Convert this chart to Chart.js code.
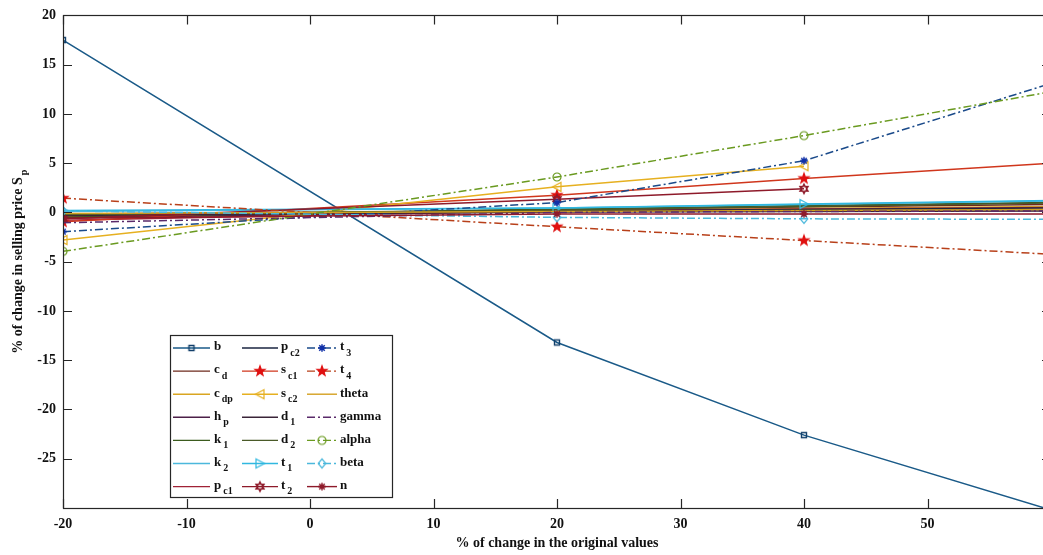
<!DOCTYPE html>
<html><head><meta charset="utf-8">
<script src="https://cdn.jsdelivr.net/npm/chart.js@4.4.1/dist/chart.umd.min.js"></script>
<style>
html,body{margin:0;padding:0;overflow:hidden;background:#fff;width:1043px;height:555px;}
#wrap{position:absolute;left:0;top:0;width:1060px;height:555px;}
</style></head><body>
<div id="wrap"><canvas id="c"></canvas></div>
<script>
// ---- data ----
const xValues = [-20, 20, 40, 60];
const b     = [17.5, -13.2, -22.6, -30.2];
const c_d   = [-0.45, 0.3, 0.55, 0.8];
const c_dp  = [-0.35, 0.2, 0.4, 0.6];
const h_p   = [-0.55, 0.1, 0.2, 0.3];
const k_1   = [-0.5, 0.35, 0.7, 1.0];
const k_2   = [0.1, 0.45, 0.8, 1.15];
const p_c1  = [-0.8, 0.2, 0.35, 0.5];
const p_c2  = [-0.15, 0.15, 0.3, 0.45];
const s_c1  = [-0.95, 1.75, 3.45, 5.0];
const s_c2  = [-2.8, 2.6, 4.7, null];
const d_1   = [-0.3, 0.05, 0.1, 0.15];
const d_2   = [-0.2, 0.25, 0.6, 0.95];
const t_1   = [0.2, 0.45, 0.85, 1.2];
const t_2   = [-0.65, 1.35, 2.4, null];
const t_3   = [-1.95, 1.0, 5.25, 13.1];
const t_4   = [1.45, -1.45, -2.85, -4.25];
const theta = [-0.1, 0.1, 0.2, 0.3];
const gamma = [-1.05, 0.0, 0.1, 0.15];
const alpha = [-3.95, 3.6, 7.8, 12.25];
const beta  = [0.15, -0.5, -0.65, -0.7];
const n     = [-0.6, -0.15, -0.15, -0.15];

const seriesLabels = ['b','c_d','c_dp','h_p','k_1','k_2','p_c1','p_c2','s_c1','s_c2','d_1','d_2','t_1','t_2','t_3','t_4','theta','gamma','alpha','beta','n'];
const seriesValues = [b,c_d,c_dp,h_p,k_1,k_2,p_c1,p_c2,s_c1,s_c2,d_1,d_2,t_1,t_2,t_3,t_4,theta,gamma,alpha,beta,n];
const xTicks = [-20,-10,0,10,20,30,40,50,60];
const xTickLabels = ['-20','-10','0','10','20','30','40','50',''];
const yTicks = [-25,-20,-15,-10,-5,0,5,10,15,20];
const xTitle = '% of change in the original values';
const yTitleMain = '% of change in selling price S';
const yTitleSub = 'p';

// ---- styles ----
const DD = [8,3,2,3];
const styles = {
  'b':    {c:'#1a5a88', m:'square', mc:'#123f6a'},
  'c_d':  {c:'#6e2a1c'},
  'c_dp': {c:'#d9a521'},
  'h_p':  {c:'#4c1f48'},
  'k_1':  {c:'#3b5b1e'},
  'k_2':  {c:'#4bb8dc'},
  'p_c1': {c:'#a02236'},
  'p_c2': {c:'#1a2540'},
  's_c1': {c:'#d0361c', m:'pentagram', mc:'#e01010', fill:true},
  's_c2': {c:'#e6b020', m:'triLeft'},
  'd_1':  {c:'#3a2438'},
  'd_2':  {c:'#4a5a28'},
  't_1':  {c:'#30b8e0', m:'triRight'},
  't_2':  {c:'#8e1a2a', m:'hexagram'},
  't_3':  {c:'#1a4a8a', d:DD, m:'asterisk', mc:'#1030a8'},
  't_4':  {c:'#b8401a', d:DD, m:'pentagram', mc:'#e01010', fill:true},
  'theta':{c:'#d4a020'},
  'gamma':{c:'#5a2a6a', d:DD},
  'alpha':{c:'#6a9a20', d:DD, m:'circle'},
  'beta': {c:'#4bb8dc', d:DD, m:'diamond'},
  'n':    {c:'#8e1a2a', m:'asterisk'}
};

function makeMarker(kind, color, fill){
  const s = 16, cv = document.createElement('canvas');
  cv.width = s; cv.height = s;
  const g = cv.getContext('2d');
  g.translate(s/2, s/2);
  g.strokeStyle = color; g.fillStyle = color; g.lineWidth = 1.2;
  g.beginPath();
  if (kind === 'square') { g.rect(-2.5,-2.5,5,5); g.lineWidth = 1.4; g.stroke(); }
  else if (kind === 'circle') { g.arc(0,0,4,0,2*Math.PI); g.stroke(); }
  else if (kind === 'diamond') { g.moveTo(0,-4.5); g.lineTo(3.8,0); g.lineTo(0,4.5); g.lineTo(-3.8,0); g.closePath(); g.stroke(); }
  else if (kind === 'triLeft') { g.moveTo(-4.5,0); g.lineTo(4,-4.5); g.lineTo(4,4.5); g.closePath(); g.stroke(); }
  else if (kind === 'triRight') { g.moveTo(4.5,0); g.lineTo(-4,-4.5); g.lineTo(-4,4.5); g.closePath(); g.stroke(); }
  else if (kind === 'pentagram') {
    for (let i=0;i<10;i++){ const r = i%2?2.1:5.2; const a = -Math.PI/2 + i*Math.PI/5; const px=r*Math.cos(a), py=r*Math.sin(a); i?g.lineTo(px,py):g.moveTo(px,py); }
    g.closePath(); if (fill) g.fill(); g.stroke();
  }
  else if (kind === 'hexagram') {
    for (let i=0;i<12;i++){ const r = i%2?2.4:4.4; const a = -Math.PI/2 + i*Math.PI/6; const px=r*Math.cos(a), py=r*Math.sin(a); i?g.lineTo(px,py):g.moveTo(px,py); }
    g.closePath(); g.lineWidth=1.6; g.stroke();
  }
  else if (kind === 'asterisk') {
    g.lineWidth = 1.5;
    const r = 3.8;
    g.moveTo(-r,0); g.lineTo(r,0); g.moveTo(0,-r); g.lineTo(0,r);
    const q = r*0.72; g.moveTo(-q,-q); g.lineTo(q,q); g.moveTo(-q,q); g.lineTo(q,-q);
    g.stroke();
  }
  return cv;
}

const markers = {};
seriesLabels.forEach(l => { const st = styles[l]; if (st.m) markers[l] = makeMarker(st.m, st.mc || st.c, st.fill); });

const datasets = seriesLabels.map((l, i) => {
  const st = styles[l];
  return {
    label: l,
    data: xValues.map((x, j) => ({x: x, y: seriesValues[i][j]})),
    borderColor: st.c,
    backgroundColor: st.c,
    borderWidth: 1.5,
    borderDash: st.d || [],
    pointStyle: st.m ? markers[l] : 'circle',
    pointRadius: st.m ? 4 : 0,
    pointHoverRadius: st.m ? 4 : 0,
    tension: 0,
    fill: false,
    spanGaps: false,
    order: -i
  };
});

function drawLabel(ctx, text, x, y, mainFont, subFont, subDy){
  const parts = text.split('_');
  ctx.font = mainFont; ctx.textBaseline = 'middle'; ctx.textAlign = 'left';
  ctx.fillText(parts[0], x, y);
  if (parts[1]) {
    const w = ctx.measureText(parts[0]).width;
    ctx.font = subFont;
    ctx.fillText(parts[1], x + w + 2, y + subDy);
  }
}

const framePlugin = {
  id: 'frame',
  afterDraw(chart){
    const ctx = chart.ctx, a = chart.chartArea, xs = chart.scales.x, ys = chart.scales.y;
    ctx.save();
    ctx.strokeStyle = '#262626'; ctx.lineWidth = 1.2;
    ctx.strokeRect(Math.round(a.left)+0.5, Math.round(a.top)+0.5, Math.round(a.right-a.left), Math.round(a.bottom-a.top));
    const L = 9;
    ctx.beginPath();
    xTicks.forEach(v => { const px = Math.round(xs.getPixelForValue(v))+0.5; ctx.moveTo(px,a.bottom); ctx.lineTo(px,a.bottom-L); ctx.moveTo(px,a.top); ctx.lineTo(px,a.top+L); });
    yTicks.forEach(v => { const py = Math.round(ys.getPixelForValue(v))+0.5; ctx.moveTo(a.left,py); ctx.lineTo(a.left+L,py); ctx.moveTo(a.right,py); ctx.lineTo(a.right-L,py); });
    ctx.stroke();

    // titles
    ctx.fillStyle = '#111';
    ctx.font = 'bold 14px "Liberation Serif"';
    ctx.textAlign = 'center'; ctx.textBaseline = 'middle';
    ctx.fillText(xTitle, (a.left + a.right)/2, 543);

    ctx.save();
    ctx.translate(18, (a.top + a.bottom)/2);
    ctx.rotate(-Math.PI/2);
    ctx.font = 'bold 14px "Liberation Serif"';
    const w1 = ctx.measureText(yTitleMain).width;
    ctx.font = 'bold 10px "Liberation Serif"';
    const w2 = ctx.measureText(yTitleSub).width;
    const x0 = -(w1 + w2 + 2)/2;
    ctx.textAlign = 'left';
    ctx.font = 'bold 14px "Liberation Serif"';
    ctx.fillText(yTitleMain, x0, 0);
    ctx.font = 'bold 10px "Liberation Serif"';
    ctx.fillText(yTitleSub, x0 + w1 + 2, 6);
    ctx.restore();

    // legend
    const bx = 170.5, by = 335.5, bw = 222, bh = 162;
    ctx.fillStyle = '#fff'; ctx.fillRect(bx, by, bw, bh);
    ctx.strokeStyle = '#262626'; ctx.lineWidth = 1.2; ctx.strokeRect(bx, by, bw, bh);
    const cols = [{x0:173, x1:210, tx:214}, {x0:242, x1:278, tx:281}, {x0:307, x1:337, tx:340}];
    seriesLabels.forEach((l, i) => {
      const c = Math.floor(i/7), r = i%7;
      const col = cols[c];
      const y = 348 + r*23.1;
      const st = styles[l];
      ctx.save();
      ctx.strokeStyle = st.c; ctx.lineWidth = 1.4; ctx.setLineDash(st.d || []);
      ctx.beginPath(); ctx.moveTo(col.x0, y); ctx.lineTo(col.x1, y); ctx.stroke();
      ctx.restore();
      if (st.m) { const mk = markers[l]; ctx.drawImage(mk, (col.x0+col.x1)/2 - mk.width/2, y - mk.height/2); }
      ctx.fillStyle = '#111';
      drawLabel(ctx, l, col.tx, y - 1, 'bold 13px "Liberation Serif"', 'bold 10px "Liberation Serif"', 6);
    });
    ctx.restore();
  }
};

new Chart(document.getElementById('c'), {
  type: 'line',
  data: { datasets: datasets },
  options: {
    responsive: true,
    maintainAspectRatio: false,
    animation: false,
    events: [],
    layout: { padding: { top: 14, right: 9, left: 0, bottom: 0 } },
    plugins: { legend: { display: false }, tooltip: { enabled: false } },
    scales: {
      x: {
        type: 'linear', min: -20, max: 60,
        afterBuildTicks: s => { s.ticks = xTicks.map(v => ({value: v})); },
        afterFit: s => { s.height = 47; },
        grid: { display: false, drawTicks: false },
        border: { display: false },
        ticks: { color: '#111', font: { family: 'Liberation Serif', size: 14, weight: 'bold' }, padding: 8, maxRotation: 0,
                 callback: (v) => { const k = xTicks.indexOf(v); return k >= 0 ? xTickLabels[k] : ''; } }
      },
      y: {
        type: 'linear', min: -30, max: 20,
        afterBuildTicks: s => { s.ticks = yTicks.map(v => ({value: v})); },
        afterFit: s => { s.width = 63; },
        grid: { display: false, drawTicks: false },
        border: { display: false },
        ticks: { color: '#111', font: { family: 'Liberation Serif', size: 14, weight: 'bold' }, padding: 7 }
      }
    }
  },
  plugins: [framePlugin]
});
</script>
</body></html>
